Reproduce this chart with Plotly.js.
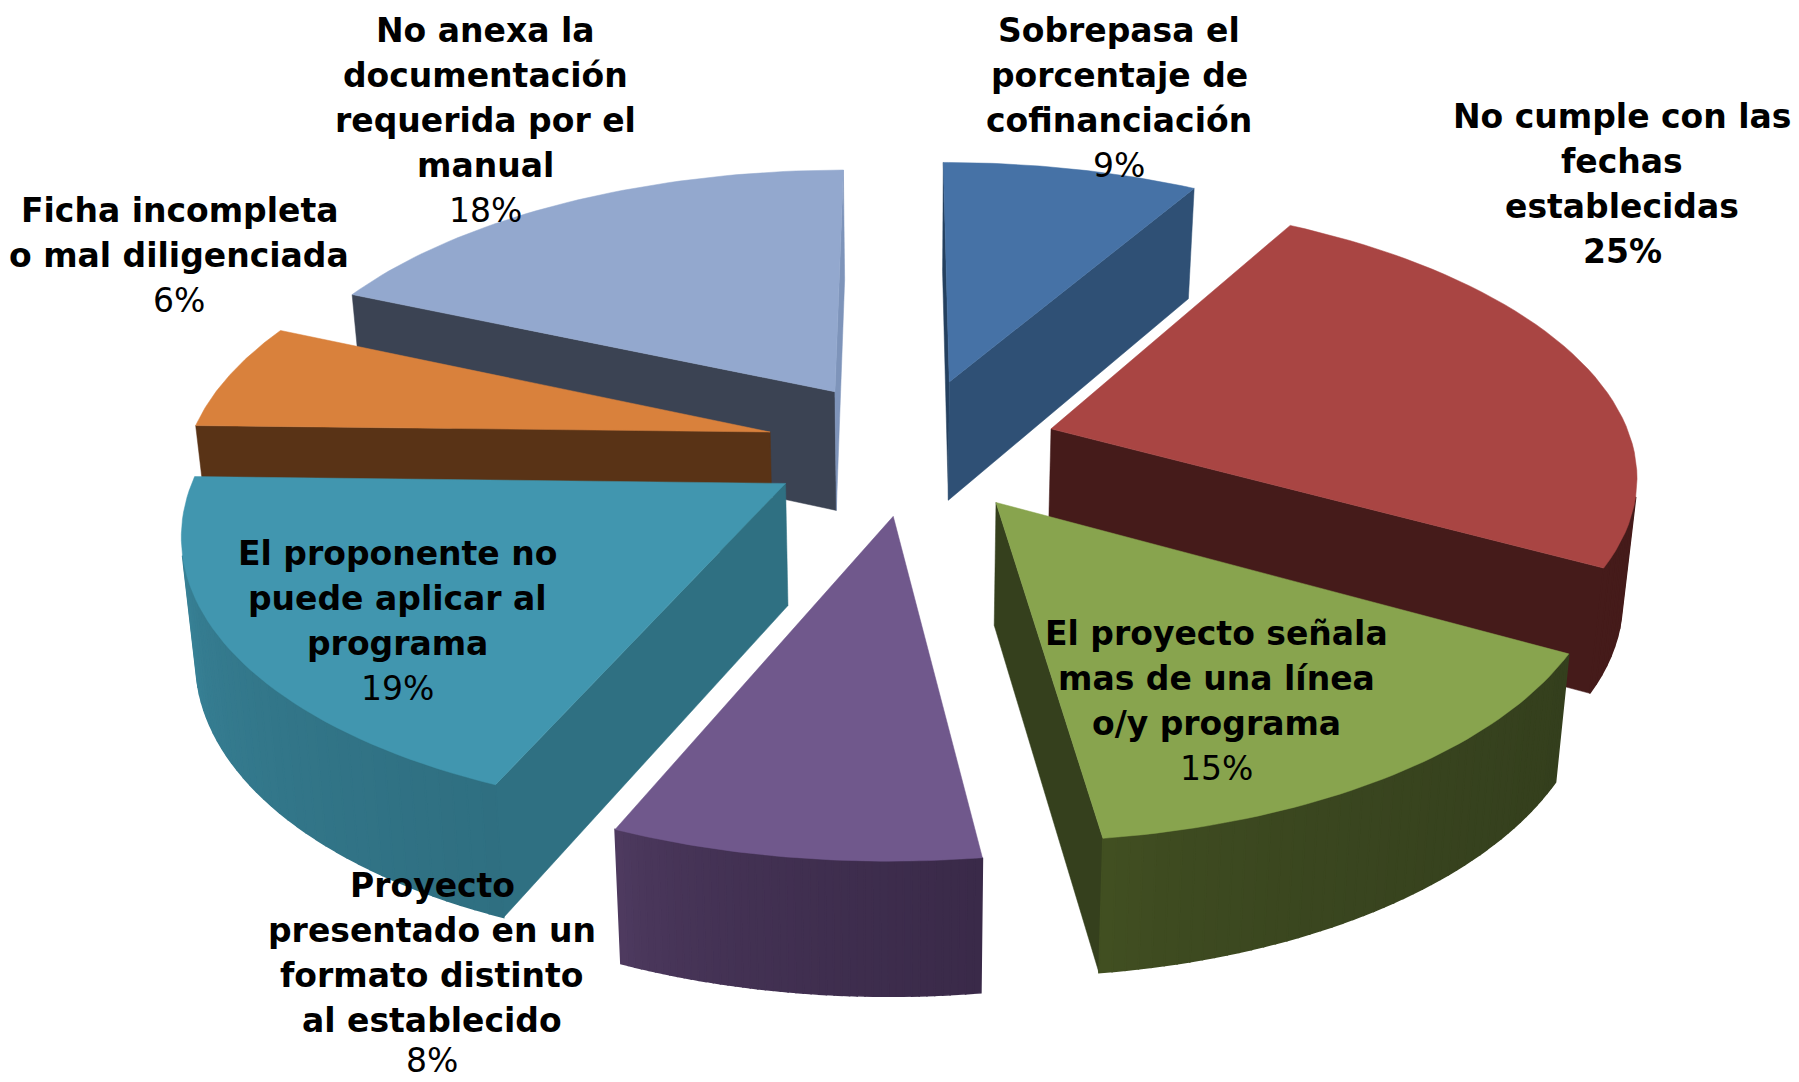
<!DOCTYPE html>
<html><head><meta charset="utf-8">
<script src="https://cdn.plot.ly/plotly-3.0.1.min.js"></script>
<style>html,body{margin:0;padding:0;background:#fff;overflow:hidden}#c{width:1799px;height:1082px}</style>
</head><body><div id="c"></div>
<script>
// ---- data ----
const categories = [
  ["Sobrepasa el","porcentaje de","cofinanciación"],
  ["No cumple con las","fechas","establecidas"],
  ["El proyecto señala","mas de una línea","o/y programa"],
  ["Proyecto","presentado en un","formato distinto","al establecido"],
  ["El proponente no","puede aplicar al","programa"],
  ["Ficha incompleta","o mal diligenciada"],
  ["No anexa la","documentación","requerida por el","manual"]
];
const values = [9,25,15,8,19,6,18];
const percentBold = [false,true,false,false,false,false,false];

// ---- styling ----
const topColors  = ["#4672a6","#a94543","#88a44e","#70588c","#4196af","#d9813c","#93a8ce"];
const wallFrom   = ["#2f5075","#451b1a","#435122","#503c62","#3f91a8","#593316","#3b4353"];
const wallTo     = ["#2f5075","#451b1a","#343f1d","#3a2a49","#2f6f81","#593316","#3b4353"];
const cutStart   = ["#24405f","#451b1a","#35401d","#503c62","#2f7082","#593316","#3b4353"];
const cutEnd     = ["#2f5075","#451b1a","#35401d","#3a2a49","#2f7082","#593316","#7e94ba"];
// how far each slice is pulled out of the pie (sideways, depthwise; pie radius = 1)
const pullX      = [0.060,0.235,0.134,-0.037,-0.219,-0.252,-0.143];
const pullY      = [0.272,0.090,-0.177,-0.225,-0.110,0.078,0.233];
// small correction of the slice edges for the 3-D view distortion, degrees
const edgeWarp   = [2.3,0,-0.7,-1.4,0.2,0.3,1.2,2.3];
const drawOrder  = [0,6,5,1,3,2,4];
const labelX     = [1119,1622,1216,432,397,179,485];
const labelY     = [30,116,633,885,553,210,30];
const linePitch  = 45;
const LABEL_MAX_Y = 1060;
const FONT = "'DejaVu Sans', Verdana, sans-serif";
const FONT_SIZE = 33;

// ---- projection of the tilted pie on to the page ----
const cx=915.6, cy=453, RX=584, RY=272, K=0.15, ROT=-2.5, STEPS=48;
const DEPTH=121, DEPTH_K=0.085, CONVERGE_X=906, CONVERGE=0.98;
function project(X,Y,down){
  const w=1+K*Y;
  let sx=cx+RX*X/w, sy=cy-RY*Y/w;
  if(down){ sx=CONVERGE_X+(sx-CONVERGE_X)*CONVERGE; sy+=DEPTH/(1+DEPTH_K*Y); }
  return [sx,sy];
}
const rad=d=>d*Math.PI/180;
function mix(a,b,t){
  const p=s=>[1,3,5].map(i=>parseInt(s.substr(i,2),16));
  const A=p(a),B=p(b);
  return "rgb("+A.map((v,i)=>Math.round(v+(B[i]-v)*t)).join(",")+")";
}
function poly(pts,color,lw){
  const xs=pts.map(p=>p[0]).concat(pts[0][0]);
  const ys=pts.map(p=>p[1]).concat(pts[0][1]);
  return {type:"scatter",mode:"lines",x:xs,y:ys,fill:"toself",fillcolor:color,
          line:{color:color,width:lw||0.5},hoverinfo:"skip",showlegend:false};
}
function faceVisible(q){
  let a=0;
  q.forEach((p,i)=>{const n=q[(i+1)%q.length];a+=p[0]*n[1]-n[0]*p[1];});
  return a<0;
}
const total=values.reduce((a,b)=>a+b,0);
let acc=0;
const slices=values.map((v,i)=>{
  const a0=ROT+acc/total*360+edgeWarp[i]; acc+=v;
  const a1=ROT+acc/total*360+edgeWarp[i+1];
  return {i,a0,a1,ox:pullX[i],oy:pullY[i]};
});
const traces=[];
drawOrder.forEach(i=>{
  const s=slices[i];
  const at=t=>{const th=rad(s.a0+(s.a1-s.a0)*t);return [s.ox+Math.sin(th),s.oy+Math.cos(th)];};
  const P=(c,d)=>project(c[0],c[1],d);
  const apex=[s.ox,s.oy];
  // radial cut faces
  const c0=at(0),c1=at(1);
  const qA=[P(apex,false),P(c0,false),P(c0,true),P(apex,true)];
  const qB=[P(c1,false),P(apex,false),P(apex,true),P(c1,true)];
  if(faceVisible(qA)) traces.push(poly(qA,cutStart[i]));
  if(faceVisible(qB)) traces.push(poly(qB,cutEnd[i]));
  // outer wall, in strips for the shading (lighter towards the left)
  for(let k=0;k<STEPS;k++){
    const a=at(k/STEPS),b=at((k+1)/STEPS);
    const q=[P(a,false),P(b,false),P(b,true),P(a,true)];
    if(faceVisible(q)){
      traces.push(poly(q,mix(wallFrom[i],wallTo[i],Math.sqrt(1-(k+0.5)/STEPS)),1.6));
    }
  }
  // top surface
  const top=[P(apex,false)];
  for(let k=0;k<=STEPS;k++) top.push(P(at(k/STEPS),false));
  traces.push(poly(top,topColors[i]));
});

// ---- labels ----
const annotations=[];
categories.forEach((lines,i)=>{
  lines.forEach((t,j)=>annotations.push({
    x:labelX[i],y:labelY[i]+j*linePitch,xref:"x",yref:"y",showarrow:false,
    text:"<b>"+t+"</b>",font:{family:FONT,size:FONT_SIZE,color:"#000"},xanchor:"center",yanchor:"middle"}));
  const pct=values[i]+"%";
  annotations.push({
    x:labelX[i],y:Math.min(LABEL_MAX_Y,labelY[i]+lines.length*linePitch),xref:"x",yref:"y",showarrow:false,
    text:percentBold[i]?"<b>"+pct+"</b>":pct,font:{family:FONT,size:FONT_SIZE,color:"#000"},xanchor:"center",yanchor:"middle"});
});

Plotly.newPlot("c",traces,{
  width:1799,height:1082,margin:{l:0,r:0,t:0,b:0},
  paper_bgcolor:"#fff",plot_bgcolor:"#fff",showlegend:false,
  xaxis:{range:[0,1799],visible:false,fixedrange:true},
  yaxis:{range:[1082,0],visible:false,fixedrange:true},
  annotations
},{displayModeBar:false,staticPlot:true});
</script></body></html>
